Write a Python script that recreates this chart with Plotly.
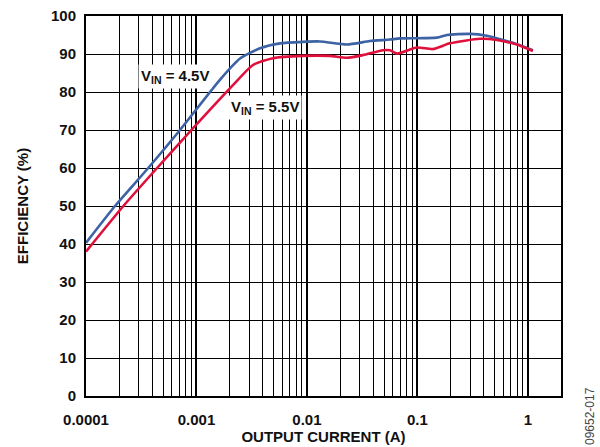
import plotly.graph_objects as go

# Data
current_45 = [0.0001, 0.000183, 0.000366, 0.00071, 0.00163, 0.00248, 0.00376, 0.0057, 0.0092,
              0.0131, 0.023, 0.0372, 0.0564, 0.0695, 0.15, 0.185, 0.298, 0.426, 0.594, 0.795, 1.11]
eff_45 = [40.3, 50.0, 60.0, 70.0, 83.2, 88.8, 91.5, 92.8, 93.2,
          93.3, 92.5, 93.4, 93.8, 94.1, 94.3, 95.0, 95.3, 94.8, 93.7, 92.6, 91.0]

current_55 = [0.0001, 0.000218, 0.00044, 0.0009, 0.00214, 0.00325, 0.00492, 0.0092, 0.0161,
              0.023, 0.0321, 0.0488, 0.0564, 0.0652, 0.0989, 0.138, 0.197, 0.368, 0.524, 0.795, 1.11]
eff_55 = [38.0, 50.0, 60.0, 70.0, 81.8, 87.1, 88.9, 89.5, 89.5,
          89.0, 89.7, 91.0, 91.0, 90.1, 91.7, 91.3, 92.8, 94.0, 93.7, 92.5, 90.8]

x_tickvals = [0.0001, 0.001, 0.01, 0.1, 1]
x_ticktext = ["0.0001", "0.001", "0.01", "0.1", "1"]
y_tickvals = list(range(0, 101, 10))

minor_vals = [k * 10 ** e for e in range(-4, 0) for k in range(2, 10)]

FAM = "Liberation Sans, Arial, sans-serif"
TXT = "#111111"

fig = go.Figure()
fig.add_trace(go.Scatter(x=current_45, y=eff_45, mode="lines",
                         line=dict(color="#3d63a5", width=2.6, shape="spline", smoothing=0.6),
                         showlegend=False))
fig.add_trace(go.Scatter(x=current_55, y=eff_55, mode="lines",
                         line=dict(color="#e0103c", width=2.6, shape="spline", smoothing=0.6),
                         showlegend=False))

L, R, T, B = 86, 39, 16, 51
W, H = 600, 447

fig.update_layout(
    width=W, height=H,
    margin=dict(l=L, r=R, t=T, b=B),
    paper_bgcolor="white", plot_bgcolor="white",
    font=dict(family=FAM, size=15, color=TXT),
    xaxis=dict(type="log", range=[-4, 0.3], automargin=False,
               tickvals=x_tickvals, ticktext=x_ticktext,
               tickfont=dict(family=FAM, size=15, color=TXT, weight="bold"),
               showgrid=True, gridcolor="black", gridwidth=2,
               minor=dict(tickvals=minor_vals, showgrid=True, gridcolor="black", gridwidth=1, ticks=""),
               showline=True, linecolor="black", linewidth=2, mirror=True,
               ticks="", ticklabelstandoff=9, zeroline=False,
               title=dict(text="<b>OUTPUT CURRENT (A)</b>", standoff=4,
                          font=dict(family=FAM, size=15, color=TXT))),
    yaxis=dict(range=[0, 100], tickvals=y_tickvals, automargin=False,
               tickfont=dict(family=FAM, size=15, color=TXT, weight="bold"),
               showgrid=True, gridcolor="black", gridwidth=1,
               showline=True, linecolor="black", linewidth=2, mirror=True,
               ticks="", ticklabelstandoff=5, zeroline=False,
               title=dict(text="<b>EFFICIENCY (%)</b>", standoff=19,
                          font=dict(family=FAM, size=15, color=TXT))),
    annotations=[
        dict(x=-3.19, y=84.2, xref="x", yref="y",
             text="<b>V<sub>IN</sub> = 4.5V</b>", showarrow=False,
             bgcolor="white", borderpad=2,
             font=dict(family=FAM, size=15, color=TXT)),
        dict(x=-2.38, y=76, xref="x", yref="y",
             text="<b>V<sub>IN</sub> = 5.5V</b>", showarrow=False,
             bgcolor="white", borderpad=2,
             font=dict(family=FAM, size=15, color=TXT)),
        dict(x=(590 - L) / (W - L - R), y=(H - B - 416) / (H - T - B), xref="paper", yref="paper",
             xanchor="center", yanchor="middle",
             text="09652-017", showarrow=False, textangle=-90,
             font=dict(family=FAM, size=12, color="#444444")),
    ],
)

fig.write_html("out.html")
